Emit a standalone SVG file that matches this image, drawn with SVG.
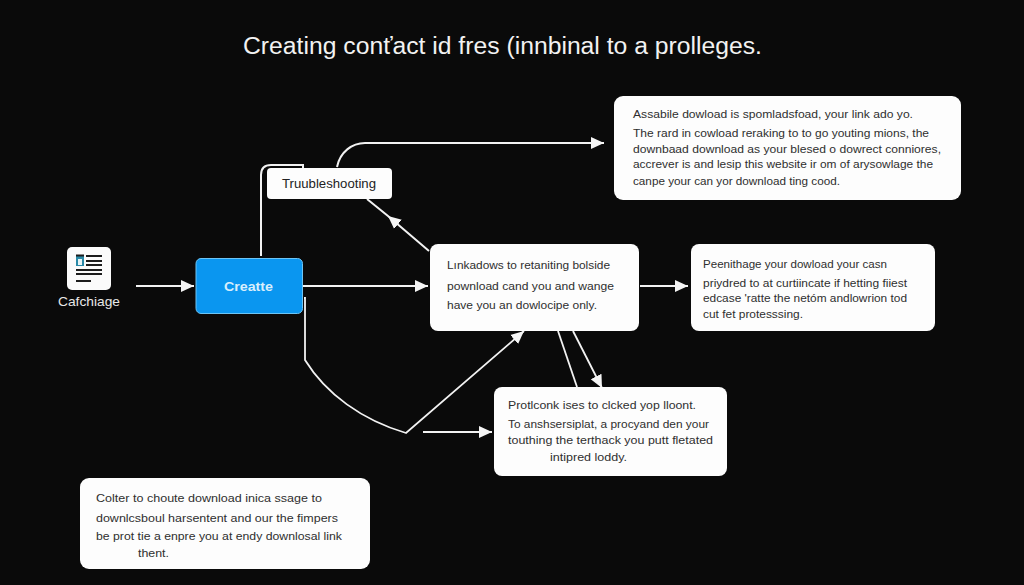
<svg xmlns="http://www.w3.org/2000/svg" width="1024" height="585" viewBox="0 0 1024 585">
<style>
text{font-family:"Liberation Sans",Arial,sans-serif}
.t{font-size:11.5px;fill:#2f2f2f}
.box{fill:#fdfdfd}
.c{fill:none;stroke:#f2f2f2;stroke-width:1.8}
.c2{fill:none;stroke:#f2f2f2;stroke-width:2}
</style>
<defs>
<marker id="a" markerUnits="userSpaceOnUse" markerWidth="14" markerHeight="14" refX="13" refY="7" orient="auto"><path d="M0,1 L13,7 L0,13 Z" fill="#f5f5f5"/></marker>
</defs>
<rect width="1024" height="585" fill="#0a0a0a"/>
<text x="243" y="54" font-size="23" fill="#f2f2f2" textLength="519" lengthAdjust="spacingAndGlyphs">Creating conťact id fres (innbinal to a  prolleges.</text>
<g id="connectors">
<path class="c2" marker-end="url(#a)" d="M136,286 H194"/>
<path class="c2" marker-end="url(#a)" d="M303,286 H428"/>
<path class="c2" marker-end="url(#a)" d="M640,286 H688"/>
<path class="c2" d="M261,256 V175 Q261,165 271,165 H303 V168"/>
<path class="c2" marker-end="url(#a)" d="M337,167 C340,152 352,143 365,143 H604"/>
<path class="c2" marker-mid="url(#a)" d="M429,251 L388,216 L367,199"/>
<path class="c" marker-end="url(#a)" d="M304,298 H305 V360 C326,394 362,420 406,433 L524,331"/>
<path class="c2" marker-end="url(#a)" d="M423,432 H492"/>
<path class="c" d="M558,331 L577,387"/>
<path class="c" marker-end="url(#a)" d="M573,331 L602,388"/>
</g>
<g id="node-icon">
<rect x="67" y="247" width="44" height="43" rx="5" fill="#fbfbfb"/>
<rect x="76" y="256" width="8" height="10" fill="#2a8aa8"/>
<rect x="78" y="259" width="4" height="6" fill="#e8f4f6"/>
<path d="M76,255.500 H84 M86,256 H102 M86,261 H102 M86,265 H102 M76,270 H102 M76,274 H102 M76,281 H91" stroke="#1c1c1c" stroke-width="1.800" fill="none"/>
<text x="58" y="306" font-size="13" fill="#e8e8e8" textLength="62" lengthAdjust="spacingAndGlyphs">Cafchiage</text>
</g>
<g id="node-create">
<rect x="196" y="258.500" width="106.500" height="55" rx="5" fill="#0a96f0" stroke="#6cc4f5" stroke-width="1"/>
<text x="224" y="291" font-size="13.500" font-weight="bold" fill="#d8eefc" textLength="49" lengthAdjust="spacingAndGlyphs">Creatte</text>
</g>
<g id="node-troubleshooting">
<rect class="box" x="267" y="168" width="125" height="31" rx="4"/>
<text x="282" y="188" font-size="12.500" fill="#222" textLength="94" lengthAdjust="spacingAndGlyphs">Truubleshooting</text>
</g>
<g id="node-top">
<rect class="box" x="614" y="96" width="347" height="104" rx="9"/>
<text class="t" x="633" y="118" textLength="280" lengthAdjust="spacingAndGlyphs">Assabile dowload is spomladsfoad, your link  ado yo.</text>
<text class="t" x="633" y="137" textLength="296" lengthAdjust="spacingAndGlyphs">The rard in cowload reraking to to go youting mions, the</text>
<text class="t" x="633" y="153" textLength="308" lengthAdjust="spacingAndGlyphs">downbaad download as your blesed o  dowrect conniores,</text>
<text class="t" x="633" y="168" textLength="300" lengthAdjust="spacingAndGlyphs">accrever is and lesip this website ir om of arysowlage the</text>
<text class="t" x="633" y="185" textLength="207" lengthAdjust="spacingAndGlyphs">canpe your can yor download ting cood.</text>
</g>
<g id="node-middle">
<rect class="box" x="430" y="244" width="209" height="87" rx="8"/>
<text class="t" x="447" y="269" textLength="163" lengthAdjust="spacingAndGlyphs">Lınkadows to retaniting bolside</text>
<text class="t" x="447" y="290" textLength="167" lengthAdjust="spacingAndGlyphs">pownload cand you and wange</text>
<text class="t" x="447" y="309" textLength="150" lengthAdjust="spacingAndGlyphs">have you an dowlocipe only.</text>
</g>
<g id="node-right">
<rect class="box" x="691" y="244" width="244" height="87" rx="8"/>
<text class="t" x="703" y="268" textLength="184" lengthAdjust="spacingAndGlyphs">Peenithage your dowload your casn</text>
<text class="t" x="703" y="287" textLength="204" lengthAdjust="spacingAndGlyphs">priydred to at curtiincate if hetting fiiest</text>
<text class="t" x="703" y="302" textLength="204" lengthAdjust="spacingAndGlyphs">edcase 'ratte the netóm andlowrion tod</text>
<text class="t" x="703" y="318" textLength="100" lengthAdjust="spacingAndGlyphs">cut fet protesssing.</text>
</g>
<g id="node-bottom">
<rect class="box" x="494" y="387" width="233" height="89" rx="8"/>
<text class="t" x="508" y="409" textLength="188" lengthAdjust="spacingAndGlyphs">Protlconk  ises to clcked yop lloont.</text>
<text class="t" x="508" y="428" textLength="201" lengthAdjust="spacingAndGlyphs">To anshsersiplat, a procyand den your</text>
<text class="t" x="508" y="444" textLength="205" lengthAdjust="spacingAndGlyphs">touthing the terthack you putt fletated</text>
<text class="t" x="550" y="461" textLength="77" lengthAdjust="spacingAndGlyphs">intipred loddy.</text>
</g>
<g id="node-bottom-left">
<rect class="box" x="80" y="478" width="290" height="91" rx="9"/>
<text class="t" x="96" y="502" textLength="226" lengthAdjust="spacingAndGlyphs">Colter to choute download inica ssage to</text>
<text class="t" x="96" y="522" textLength="242" lengthAdjust="spacingAndGlyphs">downlcsboul harsentent and our the fimpers</text>
<text class="t" x="96" y="540" textLength="246" lengthAdjust="spacingAndGlyphs">be prot tie a enpre you at endy downlosal link</text>
<text class="t" x="138" y="557" textLength="31" lengthAdjust="spacingAndGlyphs">thent.</text>
</g>
</svg>
